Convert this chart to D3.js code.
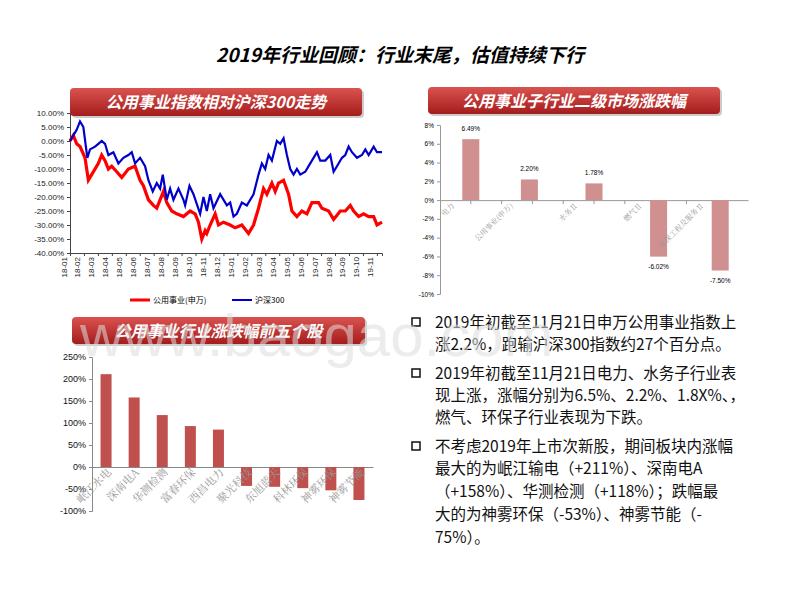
<!DOCTYPE html><html><head><meta charset="utf-8"><script src="https://d3js.org/d3.v7.min.js"></script>
<style>body{margin:0;background:#fff}svg{font-family:"Noto Sans CJK SC",sans-serif}</style></head><body>
<svg id="s" width="800" height="600"></svg>
<script>
const monthLabels=["18-01","18-02","18-03","18-04","18-05","18-06","18-07","18-08","18-09","18-10","18-11","18-12","19-01","19-02","19-03","19-04","19-05","19-06","19-07","19-08","19-09","19-10","19-11"];
// time in units where one month = 4.18
const hs300=[[0,0],[1,2],[2,4],[3,7],[4,5],[5.2,-6],[6,-3],[7.5,-2],[8.5,-1],[9.5,0],[10.5,-1],[11.5,-5],[13,-4],[14.5,-8],[16,-6],[17.5,-5],[18.5,-4],[19.5,-8],[21,-6],[22.5,-9],[23.5,-14],[24.8,-18],[26,-15],[27,-17],[27.8,-12],[29,-21],[30,-17],[31,-21],[32.5,-17],[34,-21],[34.5,-23],[35.8,-16],[37,-19],[39,-26],[40,-20],[41,-25],[42,-19],[43,-24],[45,-19],[47,-23],[48,-22],[49,-27],[50,-26],[51.5,-22],[53,-23],[55,-19],[56.5,-12],[57.5,-8],[58.5,-10],[59.5,-5],[60.5,-7],[62,0],[63,-1],[64,1],[65,-5],[66,-10],[67,-12],[68,-10],[69,-12],[70.5,-11],[72,-8],[74,-4],[75,-7],[76.5,-7],[78,-5],[79,-11],[80,-9],[81.5,-6],[82.5,-5],[83.5,-2],[84.5,-4],[86,-6],[87.5,-5],[88.5,-3],[89.5,-5],[91,-2],[92,-4],[93.5,-4]];
const util=[[0,0],[1,2],[2,-1],[3,-2],[4.5,-6],[5.5,-14],[6.5,-12],[8.5,-8],[9.5,-5],[10.5,-7],[11.5,-10],[12.5,-9],[14,-11],[15.5,-13],[17.5,-10],[19.5,-9],[21,-14],[22,-16],[23.5,-21],[25,-23],[26,-24],[27,-21],[28,-18],[29,-22],[30.5,-25],[32,-26],[34,-27],[36,-25],[37.5,-26],[38.5,-29],[39.5,-35],[40.5,-32],[41,-33],[42,-30],[43.5,-26],[44.5,-30],[46,-29],[48,-30],[49.5,-31],[51.5,-30],[53.5,-33],[55,-30],[56.5,-24],[58,-17],[59,-19],[60.5,-15],[61.5,-18],[62.5,-15],[64,-14],[65.5,-19],[66.5,-25],[68,-27],[69.5,-25],[71,-26],[72.5,-22],[74.5,-22],[75.5,-24],[77.5,-25],[79,-28],[81,-25],[82.5,-25],[84,-23],[85,-25],[86.5,-27],[88,-26],[89.5,-27],[91,-27],[92,-30],[93.5,-29]];
const lineTicks=[10,5,0,-5,-10,-15,-20,-25,-30,-35,-40];
const subCats=["电力","公用事业(申万)","水务Ⅱ","燃气Ⅱ","环保工程及服务Ⅱ"];
const subVals=[6.49,2.20,1.78,-6.02,-7.50];
const subTicks=[8,6,4,2,0,-2,-4,-6,-8,-10];
const stockCats=["岷江水电","深南电A","华测检测","富春环保","西昌电力","聚光科技","东旭蓝天","科林环保","神雾环保","神雾节能"];
const stockVals=[211,158,118,93,85,-43,-45,-48,-53,-75];
const stockTicks=[250,200,150,100,50,0,-50,-100];

const svg=d3.select("#s");
const defs=svg.append("defs");
const g=defs.append("linearGradient").attr("id","bn").attr("x1",0).attr("y1",0).attr("x2",0).attr("y2",1);
g.append("stop").attr("offset","0").attr("stop-color","#d9534f");
g.append("stop").attr("offset","1").attr("stop-color","#a51c1c");
svg.append("text").attr("x",400).attr("y",62).attr("text-anchor","middle").attr("font-size",19).attr("font-weight","bold").attr("font-style","italic").text("2019年行业回顾：行业末尾，估值持续下行");
function banner(x,y,w,h,t){svg.append("rect").attr("x",x+2).attr("y",y+2).attr("width",w).attr("height",h).attr("rx",4).attr("fill","#ccc");
svg.append("rect").attr("x",x).attr("y",y).attr("width",w).attr("height",h).attr("rx",4).attr("fill","url(#bn)");
svg.append("text").attr("x",x+w/2).attr("y",y+h/2+6).attr("text-anchor","middle").attr("fill","#fff").attr("font-size",16).attr("font-weight","bold").attr("font-style","italic").text(t);}
banner(70,88,292,28,"公用事业指数相对沪深300走势");
banner(428,87,292,27,"公用事业子行业二级市场涨跌幅");
banner(72,317,293,27,"公用事业行业涨跌幅前五个股");

const x1=d3.scaleLinear().domain([0,93.5]).range([70,382]);
const y1=d3.scaleLinear().domain([-40,10]).range([253,113]);
const gl=svg.append("g");
gl.append("g").attr("transform","translate(70,0)").call(d3.axisLeft(y1).tickValues(lineTicks).tickFormat(d=>d.toFixed(2)+"%").tickSize(3)).call(a=>{a.selectAll("text").attr("font-size",8).attr("font-family","Liberation Sans").attr("fill","#222");a.selectAll("path,line").attr("stroke","#444")});
gl.append("g").attr("transform","translate(0,253)").call(d3.axisBottom(x1).tickValues(d3.range(23).map(i=>i*4.18)).tickFormat((d,i)=>monthLabels[i]).tickSize(3)).call(a=>{a.selectAll("text").attr("font-size",8).attr("font-family","Liberation Sans").attr("fill","#222").attr("transform","rotate(-90)").attr("text-anchor","end").attr("dx",-4).attr("dy",-4).attr("y",0);a.selectAll("path,line").attr("stroke","#444")});
const ln=d3.line().x(d=>x1(d[0])).y(d=>y1(d[1]));
gl.append("path").datum(util).attr("d",ln).attr("fill","none").attr("stroke","#f00").attr("stroke-width",3.2);
gl.append("path").datum(hs300).attr("d",ln).attr("fill","none").attr("stroke","#00c").attr("stroke-width",2.2);
gl.append("line").attr("x1",130).attr("x2",150).attr("y1",300).attr("y2",300).attr("stroke","#f00").attr("stroke-width",3);
gl.append("text").attr("x",153).attr("y",303).attr("font-size",8).text("公用事业(申万)");
gl.append("line").attr("x1",232).attr("x2",252).attr("y1",300).attr("y2",300).attr("stroke","#00c").attr("stroke-width",2);
gl.append("text").attr("x",255).attr("y",303).attr("font-size",8).text("沪深300");

const x2=d3.scaleBand().domain(subCats).range([440,748]);
const y2=d3.scaleLinear().domain([-10,8]).range([294,125]);
const g2=svg.append("g");
g2.append("g").attr("transform","translate(440,0)").call(d3.axisLeft(y2).tickValues(subTicks).tickFormat(d=>d+"%").tickSize(3)).call(a=>{a.selectAll("text").attr("font-size",6.5).attr("font-family","Liberation Sans");a.selectAll("path,line").attr("stroke","#999")});
g2.append("g").attr("transform",`translate(0,${y2(0)})`).call(d3.axisBottom(x2).tickFormat("").tickSize(4).tickSizeOuter(0)).call(a=>a.selectAll("path,line").attr("stroke","#999"));
g2.selectAll(".tl").data(x2.domain().slice(1)).join("line").attr("x1",d=>x2(d)).attr("x2",d=>x2(d)).attr("y1",y2(0)).attr("y2",y2(0)+4).attr("stroke","#999");
const bw2=17;
const off=i=>(i==1?-3:0)+(i>=3?3:0);
g2.selectAll(".b").data(subVals).join("rect").attr("x",(d,i)=>x2(subCats[i])+x2.bandwidth()/2-bw2/2+off(i)).attr("width",bw2).attr("y",d=>y2(Math.max(0,d))).attr("height",d=>Math.abs(y2(d)-y2(0))).attr("fill","#d09090");
g2.selectAll(".v").data(subVals).join("text").attr("x",(d,i)=>x2(subCats[i])+x2.bandwidth()/2+off(i)).attr("y",d=>d>0?y2(d)-8:y2(d)+12).attr("text-anchor","middle").attr("font-size",6.5).attr("font-family","Liberation Sans").text(d=>d.toFixed(2)+"%");
g2.selectAll(".c").data(subCats).join("text").attr("transform",(d,i)=>`translate(${x2(d)+x2.bandwidth()/2-16+off(i)},${y2(0)+6}) rotate(-45)`).attr("text-anchor","end").attr("font-size",7.5).attr("fill","#999").attr("font-family","Noto Serif CJK SC,serif").text(d=>d);

const x3=d3.scaleBand().domain(stockCats).range([92,373]);
const y3=d3.scaleLinear().domain([-100,250]).range([511,357]);
const g3=svg.append("g");
g3.append("g").attr("transform","translate(92,0)").call(d3.axisLeft(y3).tickValues(stockTicks).tickFormat(d=>d+"%").tickSize(3)).call(a=>{a.selectAll("text").attr("font-size",9).attr("font-family","Liberation Sans").attr("fill","#111");a.selectAll("path,line").attr("stroke","#888")});
g3.append("g").attr("transform",`translate(0,${y3(0)})`).call(d3.axisBottom(x3).tickFormat("").tickSize(0).tickSizeOuter(0)).call(a=>a.selectAll("path").attr("stroke","#888"));
g3.selectAll(".b").data(stockVals).join("rect").attr("x",(d,i)=>x3(stockCats[i])+x3.bandwidth()/2-5.5).attr("width",11).attr("y",d=>y3(Math.max(0,d))).attr("height",d=>Math.abs(y3(d)-y3(0))).attr("fill","#c0504d");
g3.selectAll(".c").data(stockCats).join("text").attr("transform",d=>`translate(${x3(d)+x3.bandwidth()/2+6},${y3(0)+6}) rotate(-45)`).attr("text-anchor","end").attr("font-size",11).attr("fill","#999").attr("font-family","Noto Serif CJK SC,serif").text(d=>d);

const bullets=[[322,"2019年初截至11月21日申万公用事业指数上"],[344,"涨2.2%，跑输沪深300指数约27个百分点。"],[373,"2019年初截至11月21日电力、水务子行业表"],[395,"现上涨，涨幅分别为6.5%、2.2%、1.8X%、，"],[417,"燃气、环保子行业表现为下跌。"],[446,"不考虑2019年上市次新股，期间板块内涨幅"],[468,"最大的为岷江输电（+211%）、深南电A"],[491,"（+158%）、华测检测（+118%）；跌幅最"],[514,"大的为神雾环保（-53%）、神雾节能（-"],[537,"75%）。"]];
svg.selectAll(".bt").data(bullets).join("text").attr("x",435).attr("y",d=>d[0]+6).attr("font-size",15.5).attr("fill","#111").text(d=>d[1]);
[322,373,446].forEach(y=>svg.append("rect").attr("x",412).attr("y",y-4).attr("width",8).attr("height",8).attr("fill","none").attr("stroke","#111").attr("stroke-width",1.5));
svg.append("text").attr("x",80).attr("y",356).attr("font-size",60).attr("font-family","Liberation Sans").attr("fill","#ddd").attr("opacity",0.55).text("www.baogao.com");
</script></body></html>
